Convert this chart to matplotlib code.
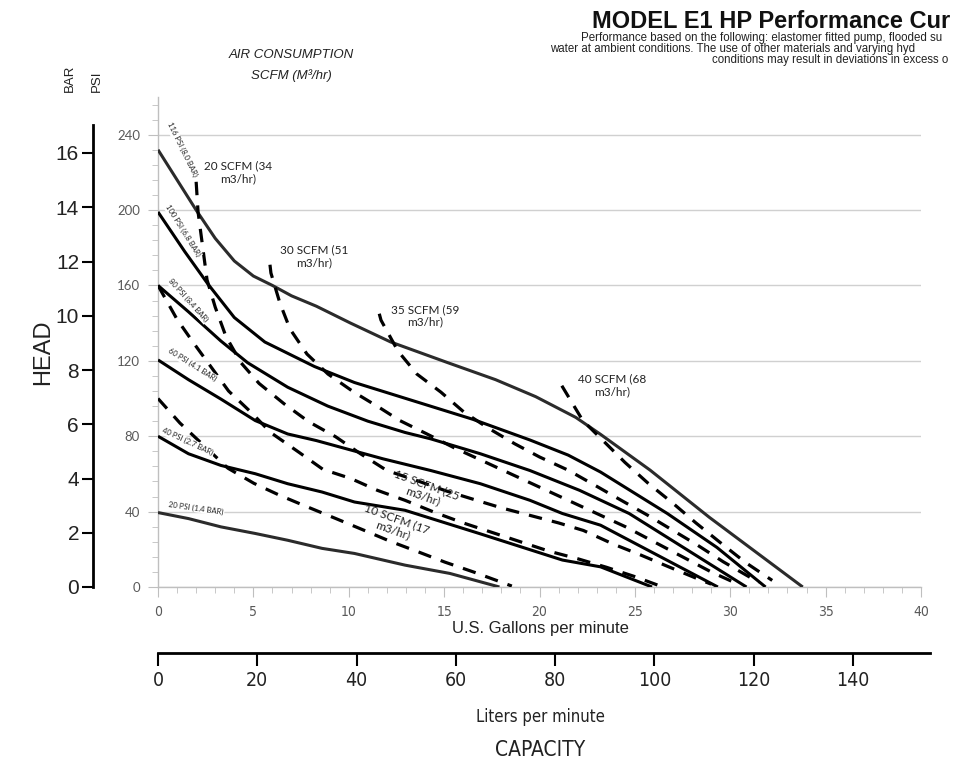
import matplotlib.pyplot as plt
from matplotlib.ticker import MultipleLocator

# ---- solid pressure curves: (gpm, psi) ----
PSI_116_GPM = [0, 1.0, 2.0, 3.0, 4.0, 5.0, 6.0, 7.0, 8.3, 10.1, 12.2, 15.2, 17.7, 19.8, 21.9, 23.2, 25.8, 28.9, 33.8]
PSI_116_HEAD = [232, 216, 200, 185, 173, 165, 160, 154.5, 149, 140, 130, 119, 110, 101, 90, 81, 62, 37, 0]
PSI_100_GPM = [0, 1.4, 2.6, 4.0, 5.6, 8.2, 10.3, 13.0, 16.5, 19.5, 21.5, 23.2, 26.7, 29.3, 31.85]
PSI_100_HEAD = [199, 178, 161, 143, 130, 117, 108.5, 100, 89, 78, 70, 61, 39, 21, 0]
PSI_80_GPM = [0, 1.6, 3.3, 4.7, 6.8, 8.9, 11.0, 12.95, 14.3, 16.9, 19.5, 22.1, 24.7, 30.85]
PSI_80_HEAD = [160, 146, 130.5, 119, 106, 96, 88, 82, 78.6, 70.7, 61.8, 51.3, 39, 0]
PSI_60_GPM = [0, 1.6, 3.3, 5.1, 6.8, 8.3, 11.8, 14.3, 16.9, 19.5, 21.2, 23.2, 29.35]
PSI_60_HEAD = [120.5, 110, 99.7, 88.3, 81.2, 77.7, 68, 61.8, 54.8, 46, 39, 32.8, 0]
PSI_40_GPM = [0, 1.6, 3.3, 5.1, 6.8, 8.6, 10.3, 12.95, 16.9, 21.2, 23.2, 25.9]
PSI_40_HEAD = [80, 70.7, 64.5, 60.1, 54.8, 50.4, 45.1, 40.7, 28.2, 14.3, 10.7, 0]
PSI_20_GPM = [0, 1.6, 3.3, 5.1, 6.8, 8.6, 10.3, 12.95, 15.3, 17.9]
PSI_20_HEAD = [39.5, 36.3, 31.9, 28.4, 24.8, 20.5, 17.8, 11.6, 7.2, 0]

# ---- dashed air-consumption curves: (gpm, psi) ----
SCFM_10_GPM = [0, 1.15, 3.67, 5.03, 6.39, 7.76, 9.28, 10.8, 12.16, 13.68, 15.04, 16.56, 18.55]
SCFM_10_HEAD = [100, 87, 63, 55, 48.6, 42.8, 36.5, 30.1, 24.3, 18.5, 13.2, 7.9, 0.5]
SCFM_15_GPM = [0, 1.0, 1.9, 3.7, 4.9, 5.9, 7.4, 8.65, 10.1, 11.5, 12.95, 14.5,
               16.0, 17.5, 19.0, 20.5, 22.0, 23.5, 25.0, 26.2]
SCFM_15_HEAD = [160, 142, 129, 104, 92.5, 82, 71.4, 62.4, 57.6, 51.3, 46, 39.6,
                34, 29, 24, 19, 15, 10.5, 5.5, 1]
SCFM_20_GPM = [2.0, 2.1, 2.57, 3.0, 3.56, 4.35, 5.3, 6.6, 7.9, 9.3, 10.6, 12.0,
               13.7, 15.1, 16.7, 18.0, 19.5, 21.0, 22.3, 23.86, 25.3, 26.75, 28.23, 29.0]
SCFM_20_HEAD = [215, 199, 163, 148.5, 133, 119, 108, 97.3, 87.7, 79.8, 70.8, 61.8,
                56, 51, 46, 42, 38, 34, 30, 22.8, 17, 10.8, 4.6, 1.5]
SCFM_30_GPM = [5.87, 5.92, 6.39, 6.92, 7.81, 8.91, 10.27, 11.64, 12.68, 14.08,
               15.5, 17.0, 18.5, 20.0, 21.5, 23.0, 24.5, 26.0, 27.5, 29.0, 30.3]
SCFM_30_HEAD = [171, 166.6, 150.7, 136.9, 123.6, 113, 103.4, 95, 88.3, 81.3,
                74, 67, 60, 53, 46, 39, 32, 24, 16, 8, 2]
SCFM_35_GPM = [11.6, 11.69, 12.58, 13.57, 14.83, 16.04, 17.3, 18.7, 20.0, 21.5,
               22.9, 24.25, 25.65, 27.0, 28.27, 29.63, 30.89, 31.5]
SCFM_35_HEAD = [145, 141.6, 125.2, 113, 103.4, 92.8, 84.4, 76, 69, 62,
                54, 46.2, 38.2, 30, 22.3, 13.4, 6, 2.5]
SCFM_40_GPM = [21.17, 22.27, 23.3, 24.48, 25.7, 27.0, 28.2, 29.45, 30.8, 32.2]
SCFM_40_HEAD = [106.8, 88.3, 78, 66.1, 55, 44.4, 34, 23.8, 13, 3.5]

PSI_LABELS = ["116 PSI (8.0 BAR)", "100 PSI (6.8 BAR)", "80 PSI (8.4 BAR)",
              "60 PSI (4.1 BAR)", "40 PSI (2.7 BAR)", "20 PSI (1.4 BAR)"]
SCFM_LABELS = ["20 SCFM (34\nm3/hr)", "30 SCFM (51\nm3/hr)", "35 SCFM (59\nm3/hr)",
               "40 SCFM (68\nm3/hr)", "15 SCFM (25\nm3/hr)", "10 SCFM (17\nm3/hr)"]

GPM_TICKS = list(range(0, 41, 5))
PSI_TICKS = list(range(0, 241, 40))
BAR_TICKS = list(range(0, 17, 2))
LPM_TICKS = list(range(0, 141, 20))

# header text, as far as it shows inside the picture's right edge
TITLE = "MODEL E1 HP Performance Cur"
SUBTITLE = [
    "Performance based on the following: elastomer fitted pump, flooded su",
    "water at ambient conditions. The use of other materials and varying hyd",
    "conditions may result in deviations in excess o",
]

W, H = 954, 764
SANS = ["Liberation Sans", "DejaVu Sans"]
CALIBRI = ["Lato", "DejaVu Sans"]
NARROW = dict(family=["DejaVu Sans"], stretch="condensed")


def fig_box(left, top, right, bottom):
    """Axes rectangle from pixel edges of the 954x764 canvas."""
    return [left / W, 1 - bottom / H, (right - left) / W, (bottom - top) / H]


fig = plt.figure(figsize=(W / 100, H / 100), dpi=100)

ax = fig.add_axes(fig_box(158, 97, 921, 587))
ax.set_xlim(0, 40)
ax.set_ylim(0, 260)
for s in ("top", "right"):
    ax.spines[s].set_visible(False)
for s in ("left", "bottom"):
    ax.spines[s].set_color("#bfbfbf")
    ax.spines[s].set_linewidth(1.0)
ax.set_xticks(GPM_TICKS)
ax.set_yticks(PSI_TICKS)
ax.xaxis.set_minor_locator(MultipleLocator(1))
ax.yaxis.set_minor_locator(MultipleLocator(8))
ax.tick_params(which="major", length=7, color="#bfbfbf", labelcolor="#595959", pad=6)
ax.tick_params(which="minor", length=4, color="#bfbfbf")
ax.tick_params(axis="x", labelsize=10)
ax.tick_params(axis="y", labelsize=9.5)
for lab in ax.get_xticklabels():
    lab.set_family(NARROW["family"])
    lab.set_stretch(NARROW["stretch"])
    lab.set_weight("light")
for lab in ax.get_yticklabels():
    lab.set_family(CALIBRI)
ax.yaxis.grid(True, color="#d0d0d0", linewidth=1.0)
ax.set_axisbelow(True)

solid = [(PSI_116_GPM, PSI_116_HEAD), (PSI_100_GPM, PSI_100_HEAD), (PSI_80_GPM, PSI_80_HEAD),
         (PSI_60_GPM, PSI_60_HEAD), (PSI_40_GPM, PSI_40_HEAD), (PSI_20_GPM, PSI_20_HEAD)]
for i, (gx, hy) in enumerate(solid):
    color = "#2b2b2b" if i in (0, 5) else "black"
    ax.plot(gx, hy, color=color, lw=2.2, solid_capstyle="butt", solid_joinstyle="round", zorder=3)

dashed = [(SCFM_10_GPM, SCFM_10_HEAD), (SCFM_15_GPM, SCFM_15_HEAD), (SCFM_20_GPM, SCFM_20_HEAD),
          (SCFM_30_GPM, SCFM_30_HEAD), (SCFM_35_GPM, SCFM_35_HEAD), (SCFM_40_GPM, SCFM_40_HEAD)]
for gx, hy in dashed:
    ax.plot(gx, hy, color="black", lw=2.3, dashes=(4.2, 3.2), zorder=3)

# curve labels, white boxes hide the lines under them as in the original
psi_pos = [(1.26, 232, -64), (1.31, 189, -58), (1.57, 152, -48),
           (1.78, 118, -32), (1.57, 77, -25), (2.0, 42, -8)]
for text, (x, y, rot) in zip(PSI_LABELS, psi_pos):
    ax.text(x, y, text, rotation=rot, fontsize=5.5, family=CALIBRI, color="#222222",
            ha="center", va="center", rotation_mode="anchor", zorder=5,
            bbox=dict(facecolor="white", edgecolor="none", pad=0.6))

scfm_pos = [(4.19, 220, 0), (8.18, 175.5, 0), (14.0, 144, 0),
            (23.8, 107, 0), (14.0, 51, -20), (12.4, 33, -20)]
for text, (x, y, rot) in zip(SCFM_LABELS, scfm_pos):
    ax.text(x, y, text, rotation=rot, fontsize=8.5, family=CALIBRI, color="#222222",
            ha="center", va="center", rotation_mode="anchor", linespacing=1.15, zorder=5)

# BAR scale, drawn on its own slightly tighter scale as in the original
ax_bar = fig.add_axes(fig_box(93, 97, 94, 587))
ax_bar.set_ylim(0, 490 / 27.125)
ax_bar.set_xticks([])
for s in ("top", "right", "bottom"):
    ax_bar.spines[s].set_visible(False)
ax_bar.spines["left"].set_linewidth(2)
ax_bar.spines["left"].set_bounds(0, (587 - 125) / 27.125)
ax_bar.set_yticks(BAR_TICKS)
ax_bar.tick_params(axis="y", length=8, width=1.5, labelsize=15, pad=2, labelcolor="#222222")
for lab in ax_bar.get_yticklabels():
    lab.set_family(SANS)
ax_bar.patch.set_visible(False)

# Liters per minute scale
ax_l = fig.add_axes(fig_box(158, 652, 930, 653))
ax_l.set_xlim(0, 772 / 4.964)
ax_l.set_yticks([])
for s in ("top", "right", "left"):
    ax_l.spines[s].set_visible(False)
ax_l.spines["bottom"].set_linewidth(2)
ax_l.set_xticks(LPM_TICKS)
ax_l.tick_params(axis="x", length=9, width=1.5, labelsize=14, pad=4, labelcolor="#222222")
for lab in ax_l.get_xticklabels():
    lab.set_family(NARROW["family"])
    lab.set_stretch(NARROW["stretch"])
ax_l.patch.set_visible(False)

fig.text(540 / W, 1 - 628 / H, "U.S. Gallons per minute", ha="center", va="center",
         fontsize=12, family=SANS, color="#222222")
fig.text(540 / W, 1 - 717 / H, "Liters per minute", ha="center", va="center",
         fontsize=12, color="#222222", **NARROW)
fig.text(540 / W, 1 - 750 / H, "CAPACITY", ha="center", va="center",
         fontsize=15, color="#222222", **NARROW)
fig.text(43 / W, 1 - 352 / H, "HEAD", rotation=90, ha="center", va="center",
         fontsize=17, family=SANS, color="#222222")
fig.text(70 / W, 1 - 78 / H, "BAR", rotation=90, ha="center", va="center",
         fontsize=9.5, family=SANS, color="#222222")
fig.text(97 / W, 1 - 81 / H, "PSI", rotation=90, ha="center", va="center",
         fontsize=9.5, family=SANS, color="#222222")
fig.text(291 / W, 1 - 55 / H, "AIR CONSUMPTION", ha="center", va="center",
         fontsize=9.5, family=SANS, style="italic", color="#222222")
fig.text(291 / W, 1 - 76 / H, "SCFM (M³/hr)", ha="center", va="center",
         fontsize=9.5, family=SANS, style="italic", color="#222222")

fig.text(592 / W, 1 - 21 / H, TITLE, ha="left", va="center",
         fontsize=17.0, family=SANS, weight="bold", color="#111111")
for (x, y), line in zip([(581, 38), (550, 49), (712, 60)], SUBTITLE):
    fig.text(x / W, 1 - y / H, line, ha="left", va="center", fontsize=8.3, family=SANS,
             color="#222222")

fig.savefig("out.png", dpi=100)
